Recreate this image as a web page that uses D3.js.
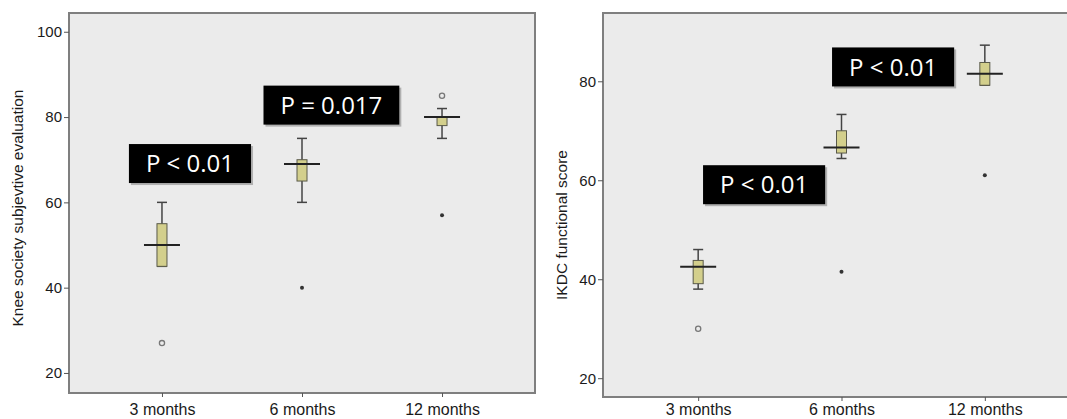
<!DOCTYPE html>
<meta charset="utf-8">
<style>
body { margin: 0; background: #fff; }
.tick text { font-family: "Liberation Sans", Arial, sans-serif; font-size: 15px; fill: #1a1a1a; }
.tick line { stroke: #555; }
.ylab { font-family: "Liberation Sans", Arial, sans-serif; font-size: 15.5px; fill: #1a1a1a; }
.note text { font-family: "Open Sans", Lato, sans-serif; font-size: 24px; fill: #fff; }
</style>
<script src="https://d3js.org/d3.v7.min.js"></script>
<body>
<script>

var categories = ["3 months", "6 months", "12 months"];

// Knee society subjective evaluation
var kneeLow  = [45, 60, 75];
var kneeQ1   = [45, 65, 78];
var kneeMed  = [50, 69, 80];
var kneeQ3   = [55, 70, 80];
var kneeHigh = [60, 75, 82];
var kneeCircles = [[27], [], [85]];
var kneeStars   = [[], [40], [57]];
var kneeTicks = [20, 40, 60, 80, 100];
var kneeNotes = ["P < 0.01", "P = 0.017"];
var kneeNoteAt = [[0.2, 69.1], [1.21, 82.8]];

// IKDC functional score
var ikdcLow  = [38, 64.4, 79.2];
var ikdcQ1   = [39.1, 65.5, 79.2];
var ikdcMed  = [42.5, 66.6, 81.5];
var ikdcQ3   = [43.8, 70, 83.8];
var ikdcHigh = [46, 73.3, 87.3];
var ikdcCircles = [[30], [], []];
var ikdcStars   = [[], [41.5], [61]];
var ikdcTicks = [20, 40, 60, 80];
var ikdcNotes = ["P < 0.01", "P < 0.01"];
var ikdcNoteAt = [[0.46, 59.1], [1.36, 82.9]];

var svg = d3.select("body").append("svg")
    .attr("width", 1067)
    .attr("height", 419);

function panel(o) {
  var g = svg.append("g");
  var x = d3.scalePoint().domain(categories).range([o.left, o.right]).padding(0.664);
  var xi = d3.scaleLinear().domain([0, 2]).range([x(categories[0]), x(categories[2])]);
  var y = d3.scaleLinear().domain(o.domain).range([o.bottom, o.top]);

  g.append("rect")
    .attr("x", o.left).attr("y", o.top)
    .attr("width", o.right - o.left).attr("height", o.bottom - o.top)
    .attr("fill", "#ebebeb").attr("stroke", "#7f7f7f").attr("stroke-width", 2);

  var ya = g.append("g").attr("transform", "translate(" + o.left + ",0)")
    .call(d3.axisLeft(y).tickValues(o.ticks).tickSize(5).tickPadding(2));
  ya.select(".domain").remove();

  var xa = g.append("g").attr("transform", "translate(0," + o.bottom + ")")
    .call(d3.axisBottom(x).tickSize(4).tickPadding(o.xpad));
  xa.select(".domain").remove();
  xa.selectAll(".tick text").style("font-size", "16px");

  g.append("text").attr("class", "ylab")
    .attr("transform", "translate(" + o.labelX + "," + o.labelY + ") rotate(-90)")
    .attr("text-anchor", "middle")
    .attr("dy", "0.35em")
    .text(o.label);

  categories.forEach(function(c, i) {
    var cx = x(c);
    // whisker
    g.append("line")
      .attr("x1", cx).attr("x2", cx)
      .attr("y1", y(o.high[i])).attr("y2", y(o.low[i]))
      .attr("stroke", "#444").attr("stroke-width", 1.5);
    [o.high[i], o.low[i]].forEach(function(v) {
      g.append("line")
        .attr("x1", cx - 5).attr("x2", cx + 5)
        .attr("y1", y(v)).attr("y2", y(v))
        .attr("stroke", "#444").attr("stroke-width", 1.5);
    });
    // box
    g.append("rect")
      .attr("x", cx - 5).attr("width", 10)
      .attr("y", y(o.q3[i])).attr("height", Math.max(1, y(o.q1[i]) - y(o.q3[i])))
      .attr("fill", "#d3cf8c").attr("stroke", "#5a5a4a").attr("stroke-width", 1);
    // median
    g.append("line")
      .attr("x1", cx - 18).attr("x2", cx + 18)
      .attr("y1", y(o.med[i])).attr("y2", y(o.med[i]))
      .attr("stroke", "#222").attr("stroke-width", 2);
    o.circles[i].forEach(function(v) {
      g.append("circle").attr("cx", cx).attr("cy", y(v)).attr("r", 2.6)
        .attr("fill", "none").attr("stroke", "#777").attr("stroke-width", 1.3);
    });
    o.stars[i].forEach(function(v) {
      g.append("circle").attr("cx", cx).attr("cy", y(v)).attr("r", 2)
        .attr("fill", "#333");
    });
  });

  o.notes.forEach(function(t, k) {
    var nx = xi(o.noteAt[k][0]), ny = y(o.noteAt[k][1]);
    var ng = g.append("g").attr("class", "note");
    var shadow = ng.append("rect").attr("fill", "#000").attr("opacity", 0.25);
    var box = ng.append("rect").attr("fill", "#000");
    var txt = ng.append("text").attr("x", nx).attr("y", ny)
      .attr("text-anchor", "middle").attr("dy", "0.36em").text(t);
    var w = txt.node().getComputedTextLength() + 34;
    box.attr("x", nx - w / 2).attr("y", ny - 19.5).attr("width", w).attr("height", 39);
    shadow.attr("x", nx - w / 2 + 2).attr("y", ny - 17.5).attr("width", w).attr("height", 39);
  });
}

panel({
  left: 69, right: 535, top: 13, bottom: 393,
  domain: [15.3, 104.4], ticks: kneeTicks, xpad: 7,
  low: kneeLow, q1: kneeQ1, med: kneeMed, q3: kneeQ3, high: kneeHigh,
  circles: kneeCircles, stars: kneeStars,
  notes: kneeNotes, noteAt: kneeNoteAt,
  label: "Knee society subjevtive evaluation", labelX: 18, labelY: 208
});

panel({
  left: 603, right: 1080, top: 13, bottom: 397,
  domain: [16.2, 93.8], ticks: ikdcTicks, xpad: 3,
  low: ikdcLow, q1: ikdcQ1, med: ikdcMed, q3: ikdcQ3, high: ikdcHigh,
  circles: ikdcCircles, stars: ikdcStars,
  notes: ikdcNotes, noteAt: ikdcNoteAt,
  label: "IKDC functional score", labelX: 562, labelY: 225
});

</script>
